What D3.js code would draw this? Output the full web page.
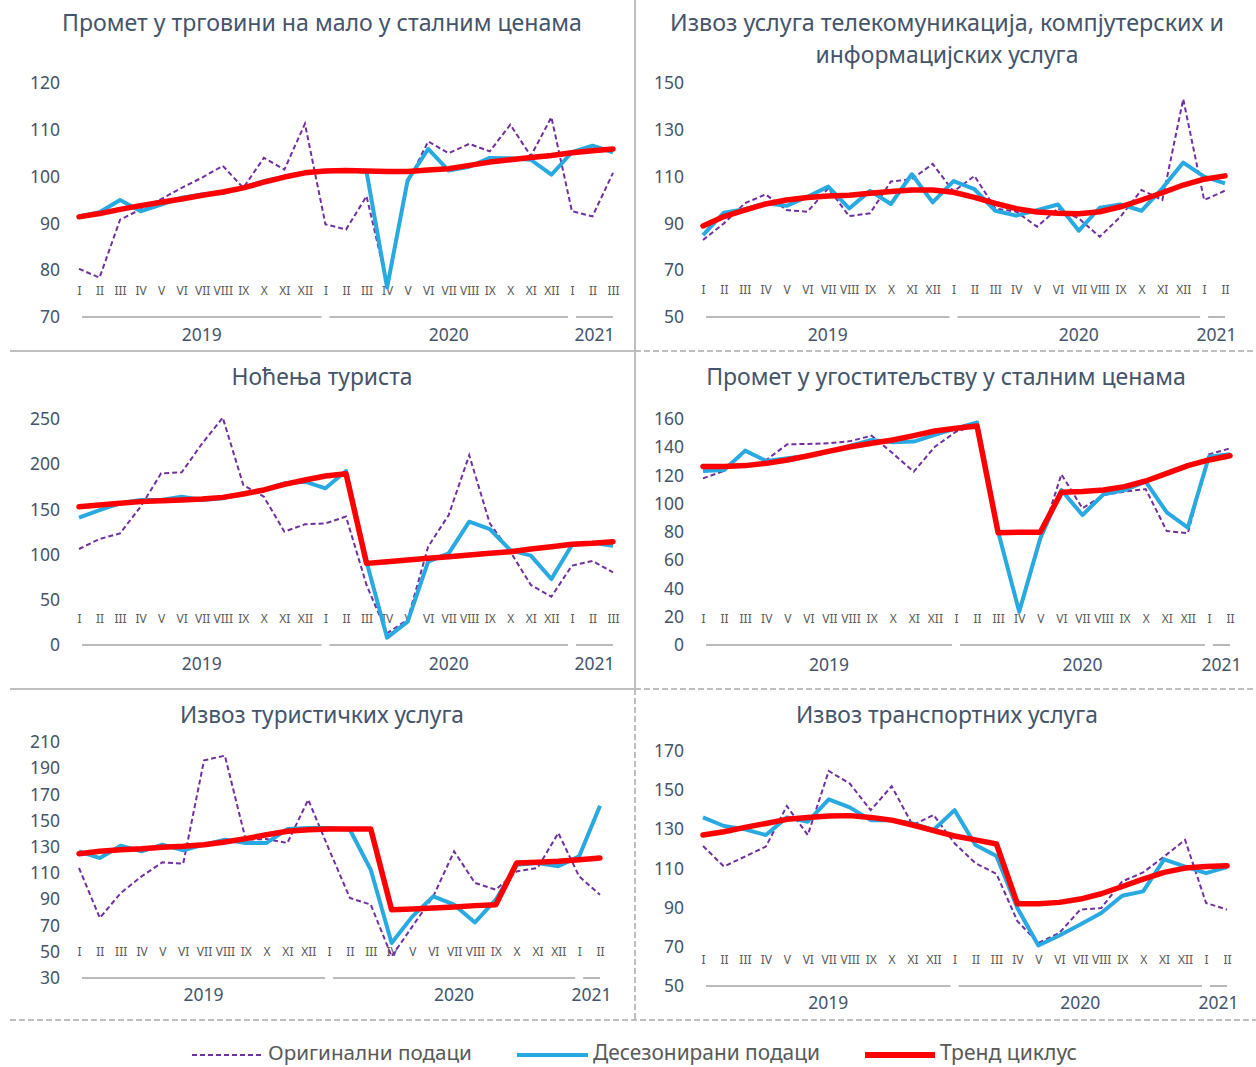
<!DOCTYPE html>
<html><head><meta charset="utf-8">
<script src="https://cdn.jsdelivr.net/npm/d3@7"></script>
<style>
html,body{margin:0;padding:0;background:#fff;}
svg{display:block;font-family:"Noto Sans",sans-serif;}
</style></head><body>
<svg id="chart" width="1256" height="1067"></svg>
<script>
// ---------- DATA ----------
const months = ["I","II","III","IV","V","VI","VII","VIII","IX","X","XI","XII"];
const years = ["2019","2020","2021"];
const legendLabels = ["Оригинални подаци","Десезонирани подаци","Тренд циклус"];

const retailTitle = ["Промет у трговини на мало у сталним ценама"];
const retailTicks = [70,80,90,100,110,120];
const retailOrig  = [80.3,78.4,90.8,93.0,95.2,97.6,99.8,102.3,97.6,104,101.5,111.3, 89.8,88.7,95.8,77,98.7,107.5,105,107,105.4,111.1,104.4,112.7, 92.6,91.5,100.8];
const retailSA    = [91.5,92.4,95,92.6,94,95.5,96.2,96.5,97.6,99,100,100.8, 101.2,101.4,101,76.3,99.2,105.9,101.3,102.1,104,103.9,103.6,100.4, 105.2,106.6,105.2];
const retailTrend = [91.4,92.1,93,93.8,94.5,95.2,96,96.7,97.6,98.8,99.9,100.8, 101.2,101.3,101.2,101.1,101.1,101.4,101.7,102.4,103.1,103.6,104.1,104.5, 105.1,105.5,105.9];

const ictTitle = ["Извоз услуга телекомуникација, компјутерских и","информацијских услуга"];
const ictTicks = [50,70,90,110,130,150];
const ictOrig  = [82.9,90,98.6,102.4,95.7,95,105,93.1,94.3,107.9,108.9,115.4, 103.6,110.3,96.4,95,88.6,96.4,92.1,84.3,92.9,104.3,100,143.1, 100,104];
const ictSA    = [85,94.6,96.1,98.6,97.5,101.4,105.7,96.4,103.9,98.3,111,99, 108.1,104.6,95.4,93.3,95.7,98.1,86.9,96.7,98.1,95.4,105,116, 110,107.1];
const ictTrend = [88.9,92.9,95.7,98.3,100,101.1,101.7,102,102.9,103.6,104.3,104.3, 103.3,101.1,98.6,96.3,94.9,94.3,94.1,95,97.1,100,103.1,106.4, 108.9,110.3];

const nightsTitle = ["Ноћења туриста"];
const nightsTicks = [0,50,100,150,200,250];
const nightsOrig  = [106.2,117.3,123.5,153,189.9,191,223,251.5,177,164,125.4,133.5, 134.6,142,66.4,13,28,108.8,143.8,210,134.6,103.2,66.4,53.5, 87.8,93,80.4];
const nightsSA    = [140.9,149.3,156.7,160.4,160.4,164,160.4,162.2,167.8,171.5,178.8,180.7, 173.3,192.5,92.2,8.1,25.8,92.2,101.4,136.4,128.3,105,98.8,73, 110.6,113.2,109.9];
const nightsTrend = [153,154.9,156.7,158.6,159.7,160.4,161.5,163.3,167,171.5,177.7,182.5, 187,189.5,90.3,92.2,94,95.9,97.7,99.6,101.4,103.2,106.2,108.8, 111.4,112.5,114.3];

const hospTitle = ["Промет у угоститељству у сталним ценама"];
const hospTicks = [0,20,40,60,80,100,120,140,160];
const hospOrig  = [118,123.2,136.9,131,142.1,142.3,142.8,144.4,148.2,135.7,122.7,140.4, 151,155.8,81.4,24,74,120.8,96.8,106.2,108.6,110.4,80.7,79.1, 135,139.2];
const hospSA    = [123.2,123.9,137.6,130.3,132.2,134,136.9,141.1,145.1,143.5,144,148.7, 153.4,157.6,80.2,23.6,75.5,109.7,92,106.7,109.7,115.6,93.9,83.1, 133.3,135];
const hospTrend = [126.3,126.3,127,128.6,131,134,137.3,140.4,142.8,145.1,148.2,151.5, 153.4,155,79.5,79.8,79.8,108.1,108.6,109.7,112.1,116.1,121.5,127, 131,134];

const tourTitle = ["Извоз туристичких услуга"];
const tourTicks = [30,50,70,90,110,130,150,170,190,210];
const tourOrig  = [113.9,75.8,94.8,107.5,118.2,117.2,196,199.6,135.5,136,133,166, 128,91,86,46.5,69.4,92.3,126.6,102.5,97.4,111.3,113.9,140.6, 107.5,93.5];
const tourSA    = [126.6,121.5,130.9,126.6,131.7,127.4,131.7,135.5,133,133,143.6,144.4, 144.4,143.1,112.6,56.7,77,92.3,85.9,72.4,89.7,116.4,117.7,115.2, 122.8,161.4];
const tourTrend = [124.8,126.6,127.9,128.6,129.7,130.4,131.7,133.7,136.3,139.3,141.9,143.1, 143.6,143.6,143.6,82.1,82.6,83.4,84.1,85.2,85.9,117.7,118.2,119, 120.2,121.5];

const transTitle = ["Извоз транспортних услуга"];
const transTicks = [50,70,90,110,130,150,170];
const transOrig  = [121.5,111,116.1,121.2,141.9,127.1,159.8,153.4,139.8,152,132.2,137.3, 122.9,112.7,107.3,83.1,72,77.1,89,89.8,103.4,108,116.1,124.6, 92.4,89];
const transSA    = [136.1,131.7,130,127.1,136.1,133.9,145.3,141.2,134.7,134.7,133,129.7, 139.8,122,116.4,89.8,70.7,75.8,81.4,87.3,96.1,98.3,114.7,111, 107.6,110.7];
const transTrend = [127.1,128.8,131,133,135.1,136.1,136.8,137,136.1,134.7,132.2,129.3, 126.6,124.6,122.5,92,92,92.7,94.4,97.1,100.8,104.6,108,110.2, 111,111.4];

// ---------- STYLE ----------
const TXT = "#44546A", MONTH_TXT = "#595959";
const C_ORIG = "#7030A0", C_SA = "#29A9E1", C_TREND = "#FF0000";
const GRID = "#BFBFBF";

function makeCats(n){
  const out=[];
  for(let i=0;i<n;i++){ const y=years[Math.floor(i/12)], m=months[i%12]; out.push({key:y+"-"+m, year:y, month:m}); }
  return out;
}

const svg = d3.select("#chart");

// layout per panel (positions only)
const panels = [
  {title:retailTitle, tw:[520], tx:322, ty:[23], orig:retailOrig, sa:retailSA, trend:retailTrend, ticks:retailTicks, x0:79, x1:613, yTop:83, yBot:317, monthY:291, yearY:335},
  {title:ictTitle, tw:[554,263], tx:947, ty:[23,55], orig:ictOrig, sa:ictSA, trend:ictTrend, ticks:ictTicks, x0:703, x1:1225, yTop:83, yBot:317, monthY:290, yearY:335},
  {title:nightsTitle, tw:[181], tx:322, ty:[377], orig:nightsOrig, sa:nightsSA, trend:nightsTrend, ticks:nightsTicks, x0:79, x1:613, yTop:419, yBot:645, monthY:619, yearY:664},
  {title:hospTitle, tw:[480], tx:946, ty:[377], orig:hospOrig, sa:hospSA, trend:hospTrend, ticks:hospTicks, x0:703, x1:1230, yTop:419, yBot:645, monthY:619, yearY:665},
  {title:tourTitle, tw:[284], tx:322, ty:[715], orig:tourOrig, sa:tourSA, trend:tourTrend, ticks:tourTicks, x0:79, x1:600, yTop:742, yBot:978, monthY:952, yearY:995},
  {title:transTitle, tw:[302], tx:947, ty:[715], orig:transOrig, sa:transSA, trend:transTrend, ticks:transTicks, x0:703, x1:1227, yTop:751, yBot:986, monthY:960, yearY:1003}
];

function fit(sel, target){
  const w = sel.node().getComputedTextLength();
  const fs = parseFloat(sel.attr("font-size"));
  if (w>0) sel.attr("font-size", (fs*target/w).toFixed(2));
}

// separators
const sep = svg.append("g").attr("stroke", GRID).attr("stroke-width", 2).attr("fill","none");
sep.append("line").attr("x1",635).attr("x2",635).attr("y1",0).attr("y2",689);
sep.append("line").attr("x1",635).attr("x2",635).attr("y1",689).attr("y2",1020).attr("stroke-dasharray","6,3");
sep.append("line").attr("x1",10).attr("x2",635).attr("y1",351).attr("y2",351);
sep.append("line").attr("x1",635).attr("x2",1256).attr("y1",351).attr("y2",351).attr("stroke-dasharray","6,3");
sep.append("line").attr("x1",10).attr("x2",635).attr("y1",689).attr("y2",689);
sep.append("line").attr("x1",635).attr("x2",1256).attr("y1",689).attr("y2",689).attr("stroke-dasharray","6,3");
sep.append("line").attr("x1",10).attr("x2",1256).attr("y1",1020).attr("y2",1020).attr("stroke-dasharray","6,3");

panels.forEach(p => {
  const cats = makeCats(p.orig.length);
  const x = d3.scalePoint().domain(cats.map(d=>d.key)).range([p.x0, p.x1]);
  const y = d3.scaleLinear().domain([d3.min(p.ticks), d3.max(p.ticks)]).range([p.yBot, p.yTop]);
  const g = svg.append("g");

  // titles
  p.title.forEach((t,i) => {
    const tt = g.append("text").attr("x", p.tx).attr("y", p.ty[i]).attr("dy","0.35em")
      .attr("text-anchor","middle").attr("font-size",22).attr("fill",TXT).text(t);
    fit(tt, p.tw[i]);
  });

  // y axis
  const ya = g.append("g").attr("transform",`translate(${p.x0},0)`)
    .call(d3.axisLeft(y).tickValues(p.ticks).tickSize(0).tickPadding(19).tickFormat(d3.format("d")));
  ya.attr("font-family","Noto Sans");
  ya.select(".domain").remove();
  ya.selectAll("text").attr("font-size",17.5).attr("fill",TXT);

  // month labels
  const xa = g.append("g").attr("transform",`translate(0,${p.monthY})`)
    .call(d3.axisBottom(x).tickSize(0).tickFormat(k => k.split("-")[1]));
  xa.attr("font-family","Noto Sans");
  xa.select(".domain").remove();
  xa.selectAll("text").attr("y",0).attr("dy","0.35em").attr("font-size",12).attr("fill",MONTH_TXT);

  // year groups
  const groups = d3.groups(cats, d=>d.year);
  groups.forEach(([yr, items], gi) => {
    const first = items[0].key, last = items[items.length-1].key;
    const sx = gi===0 ? x(first)+3 : x(first)+4;
    const ex = gi===groups.length-1 ? x(last) : x(groups[gi+1][1][0].key)-4;
    g.append("line").attr("x1",sx).attr("x2",ex).attr("y1",p.yBot).attr("y2",p.yBot)
      .attr("stroke","#A5A5A5").attr("stroke-width",1.6);
    g.append("text").attr("x",(sx+ex)/2).attr("y",p.yearY).attr("dy","0.35em").attr("text-anchor","middle")
      .attr("font-size",17.5).attr("fill",TXT).text(yr);
  });

  const line = d3.line().x((d,i)=>x(cats[i].key)).y(d=>y(d));

  g.append("path").datum(p.orig).attr("d", line).attr("fill","none")
    .attr("stroke",C_ORIG).attr("stroke-width",2).attr("stroke-dasharray","5,3");
  g.append("path").datum(p.sa).attr("d", line).attr("fill","none")
    .attr("stroke",C_SA).attr("stroke-width",4).attr("stroke-linejoin","round");
  g.append("path").datum(p.trend).attr("d", line).attr("fill","none")
    .attr("stroke",C_TREND).attr("stroke-width",5.5).attr("stroke-linejoin","round").attr("stroke-linecap","round");
});

// legend
const LY = 1053;
const legendItems = [
  {label:legendLabels[0], color:C_ORIG, w:2, dash:"5,3", lx0:192, lx1:262, tx:268, tw:204},
  {label:legendLabels[1], color:C_SA, w:4, dash:null, lx0:517, lx1:588, tx:593, tw:227},
  {label:legendLabels[2], color:C_TREND, w:6, dash:null, lx0:865, lx1:935, tx:940, tw:137}
];
const lg = svg.append("g");
legendItems.forEach(it => {
  const l = lg.append("line").attr("x1",it.lx0).attr("x2",it.lx1).attr("y1",LY+2).attr("y2",LY+2)
    .attr("stroke",it.color).attr("stroke-width",it.w);
  if (it.dash) l.attr("stroke-dasharray",it.dash);
  const t = lg.append("text").attr("x",it.tx).attr("y",LY).attr("dy","0.35em").attr("font-size",20)
    .attr("fill","#595959").text(it.label);
  fit(t, it.tw);
});
</script>
</body></html>
